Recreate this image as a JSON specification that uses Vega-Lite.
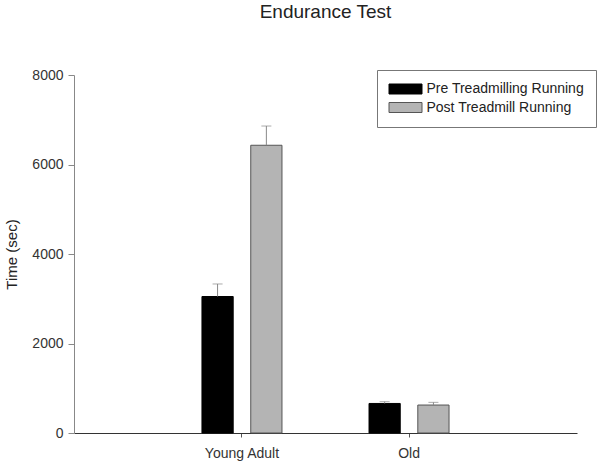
{
  "$schema": "https://vega.github.io/schema/vega-lite/v6.json",
  "width": 503,
  "height": 358,
  "autosize": "none",
  "padding": {"left": 74, "top": 75, "right": 23, "bottom": 33},
  "background": "white",
  "config": {
    "font": "Liberation Sans",
    "view": {"stroke": null}
  },
  "title": {
    "text": "Endurance Test",
    "font": "Liberation Sans",
    "fontSize": 19,
    "fontWeight": "normal",
    "color": "#222",
    "offset": 46
  },
  "data": {
    "values": [
      {"group": "Young Adult", "cond": "Pre Treadmilling Running", "time": 3050, "hi": 3330},
      {"group": "Young Adult", "cond": "Post Treadmill Running", "time": 6430, "hi": 6860},
      {"group": "Old", "cond": "Pre Treadmilling Running", "time": 660, "hi": 700},
      {"group": "Old", "cond": "Post Treadmill Running", "time": 625, "hi": 685}
    ]
  },
  "encoding": {
    "x": {
      "field": "group",
      "type": "nominal",
      "sort": ["Young Adult", "Old"],
      "scale": {"domain": ["Young Adult", "Old"], "paddingInner": 0.521, "paddingOuter": 0.766},
      "axis": {
        "title": null,
        "labelAngle": 0,
        "labelFontSize": 14,
        "labelColor": "#333",
        "labelPadding": 9,
        "tickSize": 4,
        "tickColor": "#555",
        "domainColor": "#333",
        "domainWidth": 1
      }
    },
    "xOffset": {
      "field": "cond",
      "type": "nominal",
      "sort": ["Pre Treadmilling Running", "Post Treadmill Running"],
      "scale": {"domain": ["Pre Treadmilling Running", "Post Treadmill Running"], "paddingInner": 0.36, "paddingOuter": 0}
    }
  },
  "layer": [
    {
      "mark": {"type": "bar", "strokeWidth": 1},
      "encoding": {
        "y": {
          "field": "time",
          "type": "quantitative",
          "scale": {"domain": [0, 8000], "nice": false},
          "axis": {
            "title": "Time (sec)",
            "titleFontSize": 15,
            "titleFontWeight": "normal",
            "titleColor": "#222",
            "titlePadding": 12,
            "values": [0, 2000, 4000, 6000, 8000],
            "format": "d",
            "grid": false,
            "labelFontSize": 14,
            "labelColor": "#333",
            "labelPadding": 5,
            "tickSize": 6,
            "tickColor": "#888",
            "domainColor": "#888"
          }
        },
        "color": {
          "field": "cond",
          "type": "nominal",
          "sort": ["Pre Treadmilling Running", "Post Treadmill Running"],
          "scale": {"domain": ["Pre Treadmilling Running", "Post Treadmill Running"], "range": ["#000000", "#b4b4b4"]},
          "legend": {
            "title": null,
            "orient": "none",
            "legendX": 303,
            "legendY": -5,
            "strokeColor": "#777",
            "fillColor": "white",
            "padding": 12,
            "symbolType": "M-3.3,-1H3.3V1H-3.3Z",
            "symbolSize": 100,
            "symbolOffset": 9.5,
            "symbolStrokeWidth": 1,
            "labelOffset": 14,
            "labelFontSize": 14,
            "labelColor": "#222",
            "rowPadding": 4.5,
            "labelLimit": 300
          }
        },
        "stroke": {
          "field": "cond",
          "type": "nominal",
          "sort": ["Pre Treadmilling Running", "Post Treadmill Running"],
          "scale": {"domain": ["Pre Treadmilling Running", "Post Treadmill Running"], "range": ["#000000", "#555555"]},
          "legend": {
            "title": null,
            "orient": "none",
            "legendX": 303,
            "legendY": -5,
            "strokeColor": "#777",
            "fillColor": "white",
            "padding": 12,
            "symbolType": "M-3.3,-1H3.3V1H-3.3Z",
            "symbolSize": 100,
            "symbolOffset": 9.5,
            "symbolStrokeWidth": 1,
            "labelOffset": 14,
            "labelFontSize": 14,
            "labelColor": "#222",
            "rowPadding": 4.5,
            "labelLimit": 300
          }
        }
      }
    },
    {
      "mark": {"type": "rule", "color": "#888", "strokeWidth": 1},
      "encoding": {
        "y": {"field": "time", "type": "quantitative"},
        "y2": {"field": "hi"}
      }
    },
    {
      "mark": {"type": "tick", "color": "#888", "size": 10, "thickness": 1},
      "encoding": {
        "y": {"field": "hi", "type": "quantitative"}
      }
    }
  ]
}
